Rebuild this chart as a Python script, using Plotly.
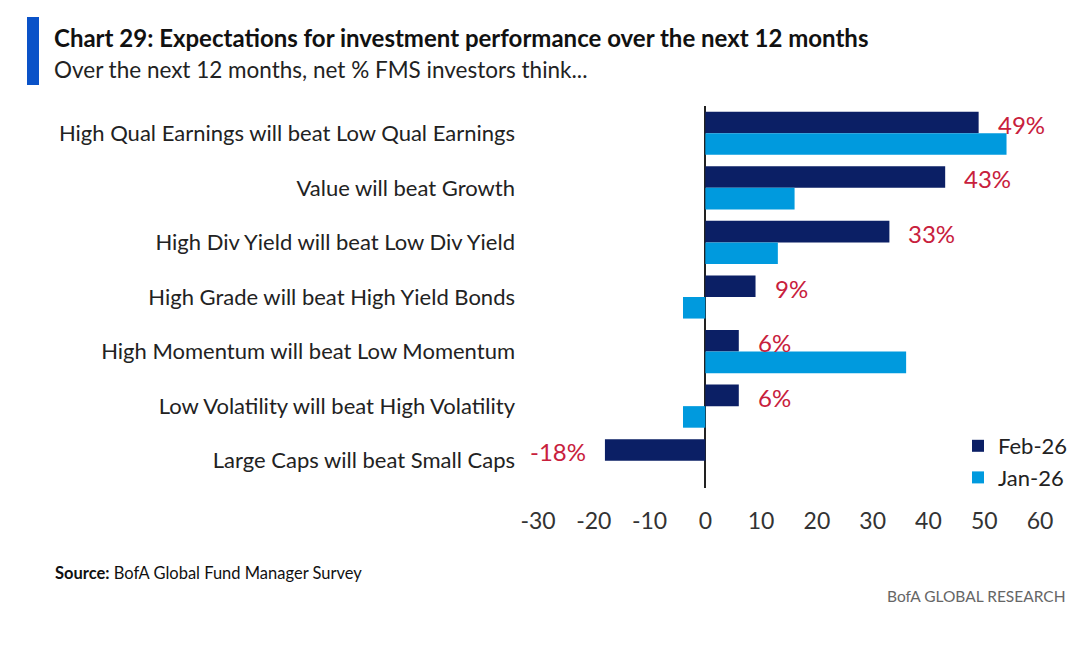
import plotly.graph_objects as go

categories = [
    "High Qual Earnings will beat Low Qual Earnings",
    "Value will beat Growth",
    "High Div Yield will beat Low Div Yield",
    "High Grade will beat High Yield Bonds",
    "High Momentum will beat Low Momentum",
    "Low Volatility will beat High Volatility",
    "Large Caps will beat Small Caps",
]
feb_26 = [49, 43, 33, 9, 6, 6, -18]
jan_26 = [54, 16, 13, -4, 36, -4, 0]
x_ticks = [-30, -20, -10, 0, 10, 20, 30, 40, 50, 60]
x_tick_labels = ["-30", "-20", "-10", "0", "10", "20", "30", "40", "50", "60"]

W, H = 1080, 655
def px(x):
    return x / W
def py(y):
    return 1 - y / H

FONT = "Lato, 'Open Sans', sans-serif"
NAVY = "#0B1F65"
LIGHT = "#009ADE"
RED = "#C8203C"

fig = go.Figure()
fig.add_trace(go.Bar(
    y=categories, x=feb_26, name="Feb-26", orientation="h",
    marker=dict(color=NAVY, line=dict(width=0)),
))
fig.add_trace(go.Bar(
    y=categories, x=jan_26, name="Jan-26", orientation="h",
    marker=dict(color=LIGHT, line=dict(width=0)),
    cliponaxis=False,
))

annotations = []
for cat, v in zip(categories, feb_26):
    annotations.append(dict(
        x=v, y=cat, xref="x", yref="y", text=f"{v}%", showarrow=False,
        xanchor="left" if v >= 0 else "right", yanchor="middle",
        xshift=17 if v >= 0 else -17, yshift=9,
        font=dict(family=FONT, size=24, color=RED),
    ))

annotations += [
    dict(text="<b>Chart 29: Expectations for investment performance over the next 12 months</b>",
         x=px(52), y=py(38), xref="paper", yref="paper", xanchor="left", yanchor="middle",
         showarrow=False, font=dict(family=FONT, size=24, color="#111111")),
    dict(text="Over the next 12 months, net % FMS investors think...",
         x=px(52), y=py(70), xref="paper", yref="paper", xanchor="left", yanchor="middle",
         showarrow=False, font=dict(family=FONT, size=22.5, color="#222222")),
    dict(text="<b>Source:</b> BofA Global Fund Manager Survey",
         x=px(53), y=py(573), xref="paper", yref="paper", xanchor="left", yanchor="middle",
         showarrow=False, font=dict(family=FONT, size=16.5, color="#111111")),
    dict(text="BofA GLOBAL RESEARCH",
         x=px(1068), y=py(596), xref="paper", yref="paper", xanchor="right", yanchor="middle",
         showarrow=False, font=dict(family=FONT, size=15.5, color="#666666")),
]

fig.update_layout(
    width=W, height=H,
    margin=dict(l=0, r=0, t=0, b=0),
    paper_bgcolor="white", plot_bgcolor="white",
    barmode="group", bargap=0.21, bargroupgap=0,
    font=dict(family=FONT, color="#222222"),
    showlegend=True,
    legend=dict(
        x=px(958), y=py(425), xanchor="left", yanchor="top",
        font=dict(family=FONT, size=22, color="#222222"),
        bgcolor="rgba(0,0,0,0)", itemwidth=30,
    ),
    xaxis=dict(
        domain=[px(538), px(1040)], range=[-30, 60],
        tickmode="array", tickvals=x_ticks, ticktext=x_tick_labels,
        showgrid=False, zeroline=True, zerolinecolor="#222222", zerolinewidth=1.5,
        showline=False, ticks="", ticklabelstandoff=17,
        tickfont=dict(family=FONT, size=23, color="#333333"),
        automargin=False,
    ),
    yaxis=dict(
        domain=[py(488), py(106)], autorange="reversed",
        showgrid=False, showline=False, ticks="",
        ticklabelstandoff=22,
        tickfont=dict(family=FONT, size=22, color="#222222"),
        automargin=False,
    ),
    shapes=[dict(type="rect", xref="paper", yref="paper",
                 x0=px(27), x1=px(39), y0=py(85), y1=py(17),
                 fillcolor="#0A52C8", line=dict(width=0))],
    annotations=annotations,
)

fig.write_html(
    "out.html",
    config={"displayModeBar": False},
    post_script="document.body.style.margin='0';document.body.style.overflow='hidden';",
)
